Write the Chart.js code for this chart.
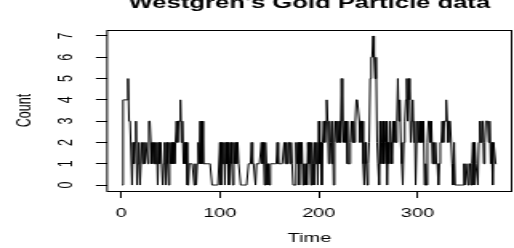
<!DOCTYPE html>
<html>
<head>
<meta charset="utf-8">
<script src="https://cdn.jsdelivr.net/npm/chart.js@4.4.0/dist/chart.umd.min.js"></script>
<style>
  html, body { margin: 0; padding: 0; background: #fff; overflow: hidden; }
</style>
</head>
<body>
<!-- the reference is stretched sideways, so the canvas is drawn narrow and widened by its inline style -->
<canvas id="gold" width="321" height="248" style="display:block;width:514px;height:248px"></canvas>
<script>
// particle counts, one per time step (t = 1 .. 380)
const counts = [
  0,4,4,4,4,4,5,3,3,3,  0,2,1,2,3,0,1,2,0,0,  2,1,2,1,2,2,1,3,3,2,  1,2,1,2,1,2,0,2,1,2,
  2,0,1,2,0,2,1,0,2,1,  2,1,2,1,2,3,2,3,3,4,  2,3,1,2,1,2,0,0,1,1,  1,1,1,0,1,0,1,2,1,3,
  1,3,1,1,1,1,1,1,1,1,  1,0,0,0,0,0,0,0,0,2,  0,2,1,2,0,2,1,2,0,1,  2,1,0,2,1,2,1,2,1,1,
  0,0,0,0,0,0,0,0,1,1,  1,2,1,1,1,0,1,1,1,1,  1,2,1,2,0,2,1,0,1,0,  1,1,1,1,1,1,1,2,1,1,
  1,1,1,1,2,1,2,1,2,2,  1,2,1,0,0,0,2,1,2,0,  2,1,2,0,1,0,1,0,2,1,  2,0,2,1,0,2,1,2,0,3,
  1,2,0,2,3,2,3,4,3,1,  3,2,1,3,0,2,3,2,3,2,  3,2,5,3,2,3,2,3,1,1,  1,2,3,2,3,2,3,4,4,4,
  3,2,3,3,1,0,2,1,0,1,  2,5,6,6,7,6,5,6,2,1,  0,3,1,2,3,1,2,3,0,2,  1,3,2,1,3,2,3,2,3,5,
  3,4,2,1,0,2,3,4,5,3,  5,4,2,3,4,2,3,0,2,3,  2,3,2,3,2,3,0,1,0,2,  3,3,2,3,1,2,1,2,1,1,
  0,1,2,2,3,2,3,3,4,3,  2,3,3,3,1,0,2,0,0,0,  0,0,0,0,0,0,1,0,1,1,  0,1,1,0,1,2,0,2,1,1,
  0,2,3,2,3,3,1,2,3,3,  3,2,3,1,2,0,2,2,1,1
];
const xTicks = [0, 100, 200, 300];
const yTicks = [0, 1, 2, 3, 4, 5, 6, 7];
const mainTitle = "Westgren's Gold Particle data";
const xTitle = 'Time';
const yTitle = 'Count';

const points = counts.map((c, i) => ({ x: i + 1, y: c }));

// R style: 4% extra room on each side of the data range
const xMin = 1 - 0.04 * (counts.length - 1);
const xMax = counts.length + 0.04 * (counts.length - 1);
const yMin = -0.04 * 7;
const yMax = 7 + 0.04 * 7;

const font = { family: '"Liberation Sans", Arial, sans-serif', size: 12.5 };

// box round the plot and the cut-off main title
const framePlugin = {
  id: 'frame',
  afterDraw(chart) {
    const { ctx, chartArea: a } = chart;
    ctx.save();
    ctx.strokeStyle = '#000';
    ctx.lineWidth = 1;
    ctx.strokeRect(a.left, Math.round(a.top) + 0.5, a.right - a.left, Math.round(a.bottom - a.top));
    ctx.fillStyle = '#000';
    ctx.font = 'bold 16px "Liberation Sans", Arial, sans-serif';
    ctx.textAlign = 'center';
    ctx.textBaseline = 'alphabetic';
    ctx.fillText(mainTitle, (a.left + a.right) / 2, 8);
    ctx.restore();
  }
};

new Chart(document.getElementById('gold'), {
  type: 'line',
  data: {
    datasets: [{
      data: points,
      borderColor: '#000',
      borderWidth: 1,
      pointRadius: 0,
      tension: 0,
      fill: false
    }]
  },
  options: {
    responsive: false,
    devicePixelRatio: 1,
    animation: false,
    events: [],
    layout: { padding: { top: 30, right: 1.5, left: 0, bottom: 0 } },
    plugins: { legend: { display: false }, tooltip: { enabled: false }, title: { display: false } },
    scales: {
      x: {
        type: 'linear',
        min: xMin,
        max: xMax,
        afterBuildTicks: (s) => { s.ticks = xTicks.map(v => ({ value: v })); },
        afterFit: (s) => { s.height = 57; },
        grid: { drawOnChartArea: false, drawTicks: true, tickLength: 7, color: '#000', tickColor: '#000' },
        border: { display: false },
        ticks: { color: '#000', font: font, padding: 8, maxRotation: 0, autoSkip: false },
        title: { display: true, text: xTitle, color: '#000', font: font, padding: { top: 0, bottom: 2 } }
      },
      y: {
        type: 'linear',
        min: yMin,
        max: yMax,
        afterBuildTicks: (s) => { s.ticks = yTicks.map(v => ({ value: v })); },
        afterFit: (s) => { s.width = 66.9; },
        grid: { drawOnChartArea: false, drawTicks: true, tickLength: 7, color: '#000', tickColor: '#000' },
        border: { display: false },
        ticks: { color: '#000', font: font, padding: 15, minRotation: 90, maxRotation: 90, crossAlign: 'center', autoSkip: false },
        title: { display: true, text: yTitle, color: '#000', font: font, padding: { top: 8, bottom: 0 } }
      }
    }
  },
  plugins: [framePlugin]
});
</script>
</body>
</html>
